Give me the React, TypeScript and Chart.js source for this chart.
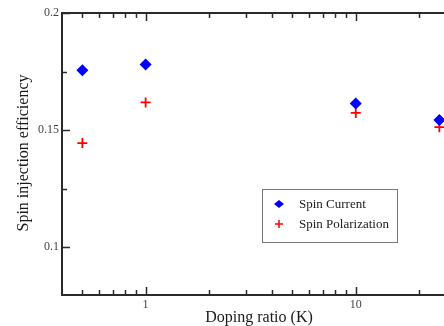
import React, { useEffect, useRef } from "react";
import { Chart, registerables } from "chart.js";

Chart.register(...registerables);

const dopingRatio = [0.5, 1, 10, 25];
const spinCurrent = [0.1755, 0.178, 0.1613, 0.1543];
const spinPolarization = [0.1444, 0.1618, 0.1573, 0.1512];
const xTickLabels = [1, 10];
const yTickLabels = [0.1, 0.15, 0.2];
const xMinorTicks = [0.5, 0.6, 0.7, 0.8, 0.9, 2, 3, 4, 5, 6, 7, 8, 9, 20];
const yMinorTicks = [0.125, 0.175];
const seriesNames = ["Spin Current", "Spin Polarization"];

const SERIF = "'Liberation Serif', 'Times New Roman', serif";

const framePlugin = {
  id: "frame",
  afterDraw(chart: any) {
    const { ctx, chartArea: a, scales } = chart;
    const xs = scales.x;
    const ys = scales.y;
    ctx.save();
    ctx.strokeStyle = "#2a2a2a";
    ctx.lineWidth = 2;
    ctx.strokeRect(a.left, a.top, a.right - a.left, a.bottom - a.top);
    ctx.lineWidth = 1.5;
    const tickX = (v: number, len: number) => {
      const p = Math.round(xs.getPixelForValue(v)) + 0.5;
      ctx.beginPath();
      ctx.moveTo(p, a.bottom);
      ctx.lineTo(p, a.bottom - len);
      ctx.moveTo(p, a.top);
      ctx.lineTo(p, a.top + len);
      ctx.stroke();
    };
    const tickY = (v: number, len: number) => {
      const p = Math.round(ys.getPixelForValue(v)) + 0.5;
      ctx.beginPath();
      ctx.moveTo(a.left, p);
      ctx.lineTo(a.left + len, p);
      ctx.moveTo(a.right, p);
      ctx.lineTo(a.right - len, p);
      ctx.stroke();
    };
    xTickLabels.forEach((v) => tickX(v, 8));
    xMinorTicks.forEach((v) => tickX(v, 5));
    yTickLabels.forEach((v) => tickY(v, 8));
    yMinorTicks.forEach((v) => tickY(v, 5));

    // titles
    ctx.fillStyle = "#1a1a1a";
    ctx.font = `16px ${SERIF}`;
    ctx.textAlign = "center";
    ctx.textBaseline = "middle";
    ctx.fillText("Doping ratio (K)", (a.left + a.right) / 2, 318);
    ctx.save();
    ctx.translate(24, 153);
    ctx.rotate(-Math.PI / 2);
    ctx.fillText("Spin injection efficiency", 0, 0);
    ctx.restore();

    // legend
    const bx = 262, by = 189, bw = 135, bh = 53;
    ctx.fillStyle = "#fff";
    ctx.fillRect(bx, by, bw, bh);
    ctx.strokeStyle = "#777";
    ctx.lineWidth = 1;
    ctx.strokeRect(bx + 0.5, by + 0.5, bw, bh);
    ctx.font = `13px ${SERIF}`;
    ctx.textAlign = "left";
    const rows = [204, 224];
    ctx.fillStyle = "#0000ff";
    ctx.beginPath();
    ctx.moveTo(279, rows[0] - 4);
    ctx.lineTo(284, rows[0]);
    ctx.lineTo(279, rows[0] + 4);
    ctx.lineTo(274, rows[0]);
    ctx.closePath();
    ctx.fill();
    ctx.strokeStyle = "#ff0000";
    ctx.lineWidth = 1.5;
    ctx.beginPath();
    ctx.moveTo(275, rows[1]);
    ctx.lineTo(283, rows[1]);
    ctx.moveTo(279, rows[1] - 4);
    ctx.lineTo(279, rows[1] + 4);
    ctx.stroke();
    ctx.fillStyle = "#1a1a1a";
    ctx.fillText(seriesNames[0], 299, rows[0] + 1);
    ctx.fillText(seriesNames[1], 299, rows[1] + 1);
    ctx.restore();
  },
};

export default function App() {
  const ref = useRef<HTMLCanvasElement>(null);
  useEffect(() => {
    if (!ref.current) return;
    const chart = new Chart(ref.current, {
      type: "scatter",
      data: {
        datasets: [
          {
            label: seriesNames[0],
            data: dopingRatio.map((x, i) => ({ x, y: spinCurrent[i] })),
            pointStyle: "rectRot",
            pointRadius: 6,
            backgroundColor: "#0000ff",
            borderColor: "#0000ff",
            borderWidth: 0,
          },
          {
            label: seriesNames[1],
            data: dopingRatio.map((x, i) => ({ x, y: spinPolarization[i] })),
            pointStyle: "cross",
            pointRadius: 5,
            backgroundColor: "#ff0000",
            borderColor: "#ff0000",
            borderWidth: 1.8,
          },
        ],
      },
      options: {
        responsive: false,
        animation: false,
        layout: { padding: { top: 13, right: 24, left: 0, bottom: 0 } },
        plugins: { legend: { display: false }, tooltip: { enabled: false } },
        scales: {
          x: {
            type: "logarithmic",
            min: 0.4,
            max: 30,
            grid: { display: false, drawTicks: false },
            border: { display: false },
            afterBuildTicks: (s: any) => {
              s.ticks = xTickLabels.map((v) => ({ value: v }));
            },
            afterFit: (s: any) => {
              s.height = 31;
            },
            ticks: {
              autoSkip: false,
              maxRotation: 0,
              padding: 3,
              color: "#444",
              font: { family: SERIF, size: 12 },
              callback: (v: any) => String(v),
            },
          },
          y: {
            min: 0.0795,
            max: 0.2,
            grid: { display: false, drawTicks: false },
            border: { display: false },
            afterBuildTicks: (s: any) => {
              s.ticks = yTickLabels.map((v) => ({ value: v }));
            },
            afterFit: (s: any) => {
              s.width = 62;
            },
            ticks: {
              padding: 3,
              color: "#444",
              font: { family: SERIF, size: 12 },
              callback: (v: any) => String(v),
            },
          },
        },
      },
      plugins: [framePlugin],
    });
    return () => chart.destroy();
  }, []);
  return (
    <div
      style={{
        position: "fixed",
        left: 0,
        top: 0,
        width: 444,
        height: 326,
        overflow: "hidden",
        background: "#fff",
      }}
    >
      <canvas ref={ref} width={480} height={326} style={{ display: "block" }} />
    </div>
  );
}
